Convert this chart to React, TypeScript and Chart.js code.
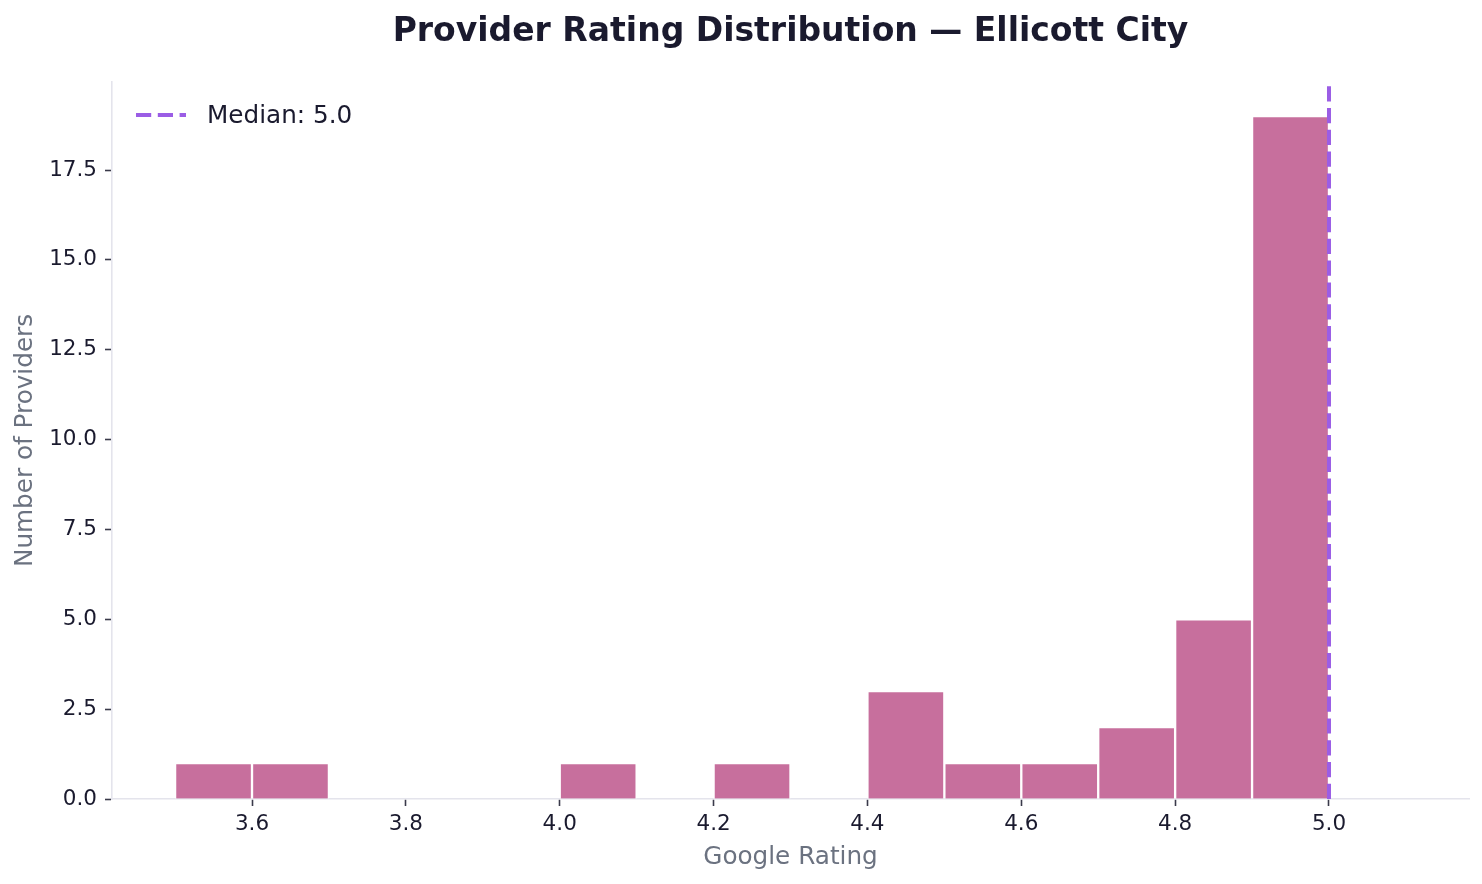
import React, { useEffect, useRef } from "react";
import { Chart, registerables } from "chart.js";

Chart.register(...registerables);

// ---- data ----
const chartTitle = "Provider Rating Distribution — Ellicott City";
const xAxisLabel = "Google Rating";
const yAxisLabel = "Number of Providers";
const binCenters = [3.55, 3.65, 3.75, 3.85, 3.95, 4.05, 4.15, 4.25, 4.35, 4.45, 4.55, 4.65, 4.75, 4.85, 4.95];
const binCounts = [1, 1, 0, 0, 0, 1, 0, 1, 0, 3, 1, 1, 2, 5, 19];
const medianRating = 5.0;
const medianLabel = "Median: 5.0";
const xTicks = [3.6, 3.8, 4.0, 4.2, 4.4, 4.6, 4.8, 5.0];
const yTicks = [0, 2.5, 5, 7.5, 10, 12.5, 15, 17.5];
const xRange = [3.418, 5.182];
const yRange = [0, 19.95];

// ---- styles ----
const FONT = '"DejaVu Sans", "Liberation Sans", sans-serif';
const BAR_COLOR = "rgb(199, 111, 157)";
const MEDIAN_COLOR = "#9B5DE5";
const TITLE_COLOR = "#1a1a2e";
const TICK_COLOR = "#1a1a2e";
const LABEL_COLOR = "#6b7280";
const SPINE_COLOR = "#e4e4ec";
const TICKMARK_COLOR = "#3a3a4a";

const medianLegendPlugin = {
  id: "medianLegend",
  afterDraw(chart: any) {
    const { ctx, chartArea } = chart;
    const ds = chart.data.datasets.find((d: any) => d.type === "line");
    if (!ds) return;
    const x0 = chartArea.left + 24;
    const y = chartArea.top + 33;
    ctx.save();
    ctx.strokeStyle = ds.borderColor;
    ctx.lineWidth = ds.borderWidth;
    ctx.setLineDash(ds.borderDash);
    ctx.lineCap = "butt";
    ctx.beginPath();
    ctx.moveTo(x0, y);
    ctx.lineTo(x0 + 50, y);
    ctx.stroke();
    ctx.setLineDash([]);
    ctx.fillStyle = TITLE_COLOR;
    ctx.font = `24.7px ${FONT}`;
    ctx.textBaseline = "middle";
    ctx.textAlign = "left";
    ctx.fillText(ds.label, x0 + 71, y + 2);
    ctx.restore();
  },
};

export default function App() {
  const canvasRef = useRef<HTMLCanvasElement | null>(null);

  useEffect(() => {
    document.body.style.margin = "0";
    const canvas = canvasRef.current;
    if (!canvas) return;

    const chart = new Chart(canvas, {
      type: "bar",
      data: {
        datasets: [
          {
            type: "line" as any,
            label: medianLabel,
            data: [
              { x: medianRating, y: yRange[0] },
              { x: medianRating, y: yRange[1] },
            ],
            borderColor: MEDIAN_COLOR,
            borderWidth: 4,
            borderDash: [15.2, 6.6],
            pointRadius: 0,
            fill: false,
            tension: 0,
            order: 1,
            clip: 0,
          } as any,
          {
            type: "bar" as any,
            label: "Providers",
            data: binCenters.map((x, i) => ({ x, y: binCounts[i] })),
            backgroundColor: BAR_COLOR,
            borderColor: "#ffffff",
            borderWidth: 1.5,
            barPercentage: 1,
            categoryPercentage: 1,
            order: 2,
          } as any,
        ],
      },
      options: {
        responsive: false,
        animation: false,
        events: [],
        layout: { padding: { left: 0, right: 13, top: 0, bottom: 0 } },
        plugins: {
          legend: { display: false },
          tooltip: { enabled: false },
          title: {
            display: true,
            text: chartTitle,
            color: TITLE_COLOR,
            fullSize: false,
            font: { family: FONT, size: 33, weight: "bold" },
            padding: { top: 13, bottom: 29.4 },
          },
        },
        scales: {
          x: {
            type: "linear",
            offset: false,
            min: xRange[0],
            max: xRange[1],
            afterBuildTicks: (s: any) => {
              s.ticks = xTicks.map((v) => ({ value: v }));
            },
            afterFit: (s: any) => {
              s.height = 85;
            },
            ticks: {
              callback: (v: any) => Number(v).toFixed(1),
              color: TICK_COLOR,
              font: { family: FONT, size: 21.5 },
              padding: 6,
              maxRotation: 0,
              autoSkip: false,
            },
            grid: {
              display: true,
              offset: false,
              drawOnChartArea: false,
              drawTicks: true,
              tickLength: 7,
              tickColor: TICKMARK_COLOR,
              tickWidth: 1.6,
            },
            border: { display: true, color: SPINE_COLOR, width: 1.6 },
            title: {
              display: true,
              text: xAxisLabel,
              color: LABEL_COLOR,
              font: { family: FONT, size: 24.7 },
              padding: { top: 0, bottom: 12 },
            },
          },
          y: {
            type: "linear",
            min: yRange[0],
            max: yRange[1],
            afterBuildTicks: (s: any) => {
              s.ticks = yTicks.map((v) => ({ value: v }));
            },
            afterFit: (s: any) => {
              s.width = 112;
            },
            ticks: {
              callback: (v: any) => Number(v).toFixed(1),
              color: TICK_COLOR,
              font: { family: FONT, size: 21.5 },
              padding: 8,
              autoSkip: false,
            },
            grid: {
              display: true,
              drawOnChartArea: false,
              drawTicks: true,
              tickLength: 7,
              tickColor: TICKMARK_COLOR,
              tickWidth: 1.6,
            },
            border: { display: true, color: SPINE_COLOR, width: 1.6 },
            title: {
              display: true,
              text: yAxisLabel,
              color: LABEL_COLOR,
              font: { family: FONT, size: 24.7 },
              padding: { top: 11, bottom: 0 },
            },
          },
        },
      } as any,
      plugins: [medianLegendPlugin],
    });

    return () => {
      chart.destroy();
    };
  }, []);

  return (
    <div style={{ width: 1482, height: 884, position: "relative", background: "#ffffff" }}>
      <canvas ref={canvasRef} width={1482} height={884} style={{ width: 1482, height: 884, display: "block" }} />
    </div>
  );
}
